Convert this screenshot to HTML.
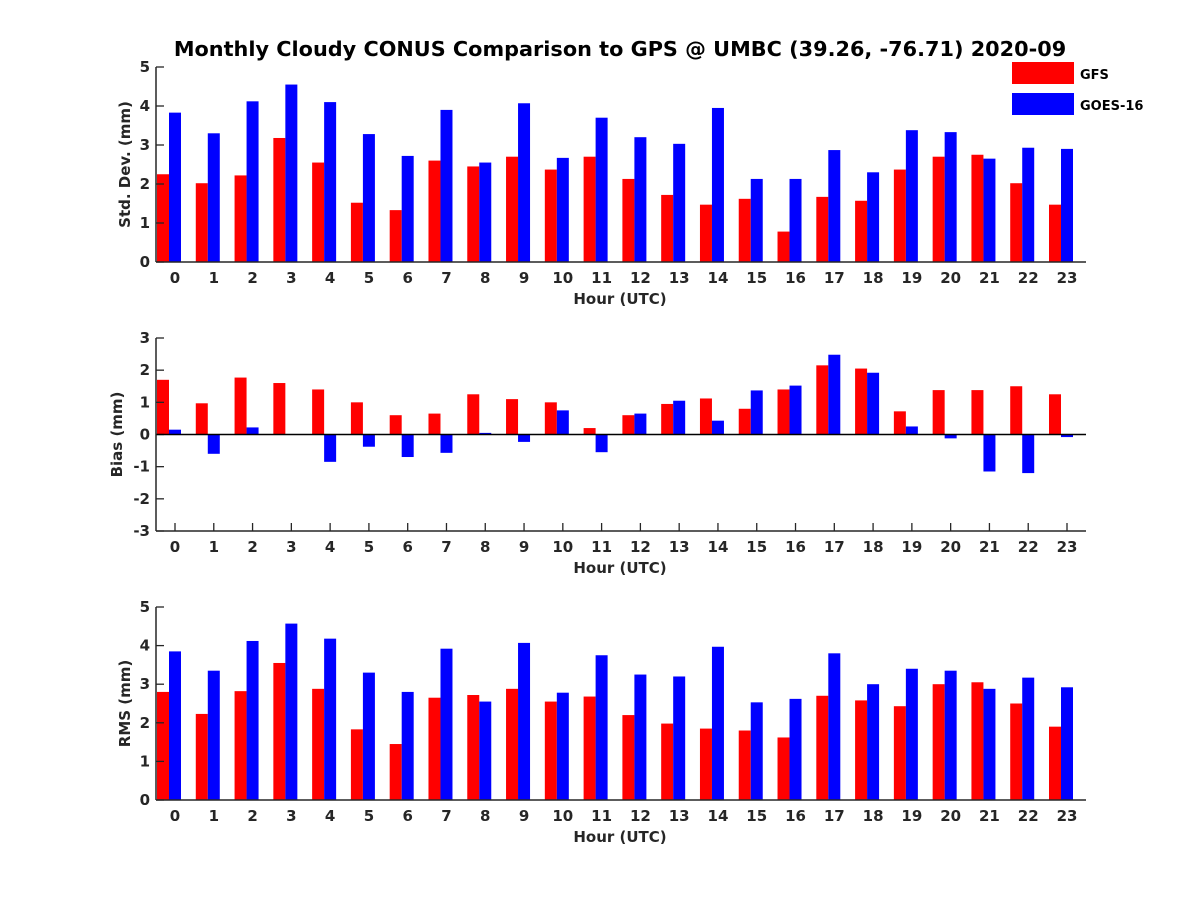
<!DOCTYPE html>
<html><head><meta charset="utf-8"><style>
body{margin:0;background:#fff}
svg text{font-family:"DejaVu Sans","Liberation Sans",sans-serif;font-weight:bold;fill:#262626}
</style></head><body>
<svg id="c" width="1200" height="900">
<text x="620" y="56" text-anchor="middle" font-size="20.8" style="fill:#000">Monthly Cloudy CONUS Comparison to GPS @ UMBC (39.26, -76.71) 2020-09</text>
<g>
<rect x="1012" y="62" width="62" height="22" fill="#ff0000"/>
<text x="1080" y="79" font-size="13" style="fill:#000">GFS</text>
<rect x="1012" y="93" width="62" height="22" fill="#0000ff"/>
<text x="1080" y="110" font-size="13" style="fill:#000">GOES-16</text>
</g>
</svg>
<script>
const hours=[0,1,2,3,4,5,6,7,8,9,10,11,12,13,14,15,16,17,18,19,20,21,22,23];
const stdGfs=[2.25,2.02,2.22,3.18,2.55,1.52,1.33,2.6,2.45,2.7,2.37,2.7,2.13,1.72,1.47,1.62,0.78,1.67,1.57,2.37,2.7,2.75,2.02,1.47];
const stdGoes=[3.83,3.3,4.12,4.55,4.1,3.28,2.72,3.9,2.55,4.07,2.67,3.7,3.2,3.03,3.95,2.13,2.13,2.87,2.3,3.38,3.33,2.65,2.93,2.9];
const biasGfs=[1.7,0.97,1.77,1.6,1.4,1.0,0.6,0.65,1.25,1.1,1.0,0.2,0.6,0.95,1.12,0.8,1.4,2.15,2.05,0.72,1.38,1.38,1.5,1.25];
const biasGoes=[0.15,-0.6,0.22,0,-0.85,-0.38,-0.7,-0.57,0.05,-0.23,0.75,-0.55,0.65,1.05,0.43,1.37,1.52,2.48,1.92,0.25,-0.12,-1.15,-1.2,-0.08];
const rmsGfs=[2.8,2.23,2.82,3.55,2.88,1.83,1.45,2.65,2.72,2.88,2.55,2.68,2.2,1.98,1.85,1.8,1.62,2.7,2.58,2.43,3.0,3.05,2.5,1.9];
const rmsGoes=[3.85,3.35,4.12,4.57,4.18,3.3,2.8,3.92,2.55,4.07,2.78,3.75,3.25,3.2,3.97,2.53,2.62,3.8,3.0,3.4,3.35,2.88,3.17,2.92];
const stdTicks=[0,1,2,3,4,5];
const biasTicks=[-3,-2,-1,0,1,2,3];
const rmsTicks=[0,1,2,3,4,5];
const NS='http://www.w3.org/2000/svg';
const svg=document.getElementById('c');
function mk(t,a,p){const e=document.createElementNS(NS,t);for(const k in a)e.setAttribute(k,a[k]);(p||svg).appendChild(e);return e;}
const X0=156,X1=1086;
function xs(h){return 175+h*(1067-175)/23;}
function panel(name,top,bot,ymin,ymax,ticks,gfs,goes,ylabel,ylx){
  const g=mk('g',{});
  
  
  const ys=v=>bot-(v-ymin)/(ymax-ymin)*(bot-top);
  const y0=ys(Math.max(0,ymin));
  hours.forEach((h,i)=>{
    const cx=xs(h);
    mk('line',{x1:cx,x2:cx,y1:bot,y2:bot-8,stroke:'#262626','stroke-width':1.3},g);
    [[gfs[i],cx-18,'#ff0000','gfs'],[goes[i],cx-6,'#0000ff','goes16']].forEach(([v,x,c,s])=>{
      const r=mk('rect',{x:x,y:Math.min(ys(v),y0),width:12,height:Math.abs(ys(v)-y0),fill:c},g);
      
      
    });
    const t=mk('text',{x:cx,y:bot+21,'text-anchor':'middle','font-size':15},g);
    t.textContent=h;
    
    
  });
  ticks.forEach(v=>{
    const y=ys(v);
    mk('line',{x1:X0,x2:X0+8,y1:y,y2:y,stroke:'#262626','stroke-width':1.3},g);
    const t=mk('text',{x:X0-6,y:y+5,'text-anchor':'end','font-size':15},g);
    t.textContent=v;
    
    
  });
  if(ymin<0) mk('line',{x1:X0,x2:X1,y1:ys(0),y2:ys(0),stroke:'#000','stroke-width':1.5},g);
  mk('line',{x1:X0,x2:X0,y1:top,y2:bot,stroke:'#262626','stroke-width':1.5},g);
  mk('line',{x1:X0,x2:X1,y1:bot,y2:bot,stroke:'#262626','stroke-width':1.5},g);
  const xl=mk('text',{x:620,y:bot+42,'text-anchor':'middle','font-size':15},g);
  xl.textContent='Hour (UTC)';
  
  
  const yl=mk('text',{x:0,y:0,'text-anchor':'middle','font-size':15,transform:`translate(${ylx},${(top+bot)/2}) rotate(-90)`},g);
  yl.textContent=ylabel;
  
  
}
panel('std-dev',67,262,0,5,stdTicks,stdGfs,stdGoes,'Std. Dev. (mm)',130);
panel('bias',338,531,-3,3,biasTicks,biasGfs,biasGoes,'Bias (mm)',122);
panel('rms',607,800,0,5,rmsTicks,rmsGfs,rmsGoes,'RMS (mm)',130);
</script>
</body></html>
